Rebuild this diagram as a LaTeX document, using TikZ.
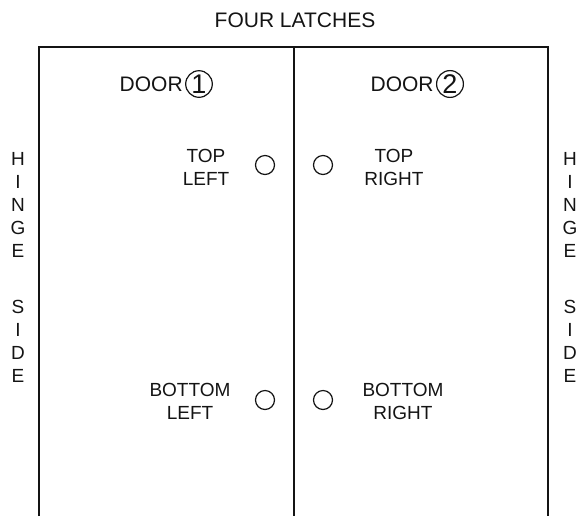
\documentclass[tikz,border=0pt]{standalone}
\usepackage{fontspec}
\setmainfont{Liberation Sans}
\definecolor{ink}{RGB}{20,20,20}
\usepackage{tikz}
\usetikzlibrary{positioning}

\begin{document}
\begin{tikzpicture}[x=0.5pt, y=-0.5pt, every node/.style={font=\fontsize{9.5}{11.5}\selectfont, text=ink},
    latch/.style={circle, draw=ink, line width=0.6pt, minimum size=9.5pt, inner sep=0pt},
    doornum/.style={circle, draw=ink, line width=0.6pt, inner sep=0.5pt, font=\fontsize{13.5}{13.5}\selectfont},
    tag/.style={align=center, inner sep=0pt}]
        \useasboundingbox (0,0) rectangle (579,516);
        % frame, open at the bottom
        \draw[ink, line width=0.8pt] (39,516) -- (39,47) -- (548,47) -- (548,516);
        \draw[ink, line width=0.8pt] (294,47) -- (294,516);
        \node[font=\fontsize{10.5}{12}\selectfont] (title) at (295,20) {FOUR LATCHES};
        % door labels
        \node[doornum] (num1) at (199,84) {1};
        \node[anchor=east, inner sep=1pt, font=\fontsize{10.5}{12}\selectfont] (door1) at (num1.west) {DOOR};
        \node[doornum] (num2) at (450,84) {2};
        \node[anchor=east, inner sep=1pt, font=\fontsize{10.5}{12}\selectfont] (door2) at (num2.west) {DOOR};
        % latches
        \node[latch] (tl) at (265,165) {};
        \node[latch] (tr) at (323,165) {};
        \node[latch] (bl) at (265,400) {};
        \node[latch] (br) at (323,400) {};
        \node[tag] (tltext) at (206,167) {TOP\\LEFT};
        \node[tag] (trtext) at (394,167) {TOP\\RIGHT};
        \node[tag] (bltext) at (190,401) {BOTTOM\\LEFT};
        \node[tag] (brtext) at (403,401) {BOTTOM\\RIGHT};
        % hinge sides
        \node[tag] (hingeL) at (18,267) {H\\I\\N\\G\\E\\[16.5pt]S\\I\\D\\E};
        \node[tag] (hingeR) at (570,267) {H\\I\\N\\G\\E\\[16.5pt]S\\I\\D\\E};
      \end{tikzpicture}
\end{document}
